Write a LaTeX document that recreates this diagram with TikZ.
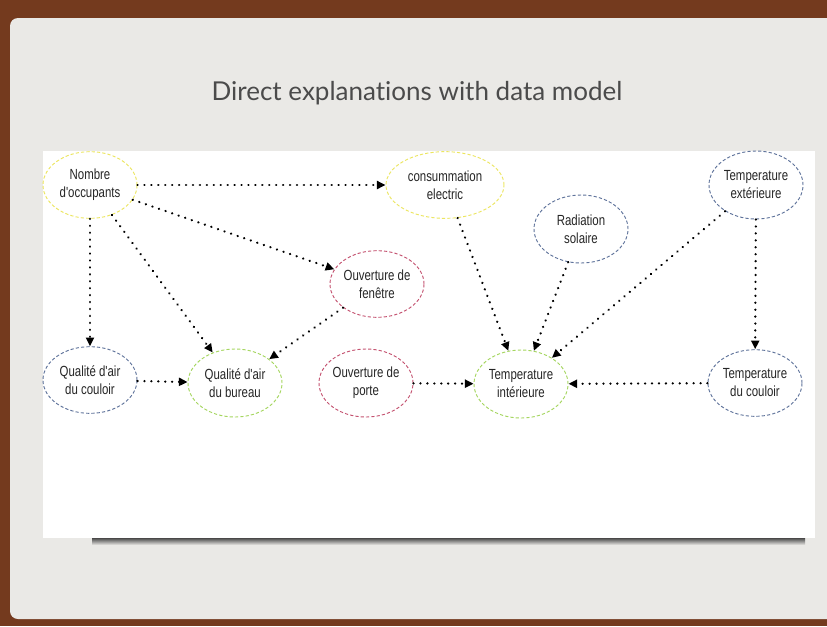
\documentclass[tikz,border=0pt]{standalone}
\usepackage{fontspec}
\usetikzlibrary{arrows.meta,shapes.geometric}
\newfontfamily\labelfont{Liberation Sans}[FakeStretch=0.78]
\newfontfamily\titlefont{Lato}[Ligatures=NoCommon]
\definecolor{framebrown}{RGB}{116,58,30}
\definecolor{slidegray}{RGB}{234,233,230}
\definecolor{titlegray}{RGB}{75,75,75}
\definecolor{varyellow}{RGB}{236,230,95}
\definecolor{vargreen}{RGB}{165,214,95}
\definecolor{varblue}{RGB}{95,115,155}
\definecolor{varred}{RGB}{196,82,112}
\tikzset{
  var/.style={ellipse, dash pattern=on 2.4pt off 1.6pt, line width=0.7pt,
    minimum width=70.5pt, minimum height=50pt, inner xsep=-6pt, inner ysep=0pt,
    align=center, text=black!85, font=\labelfont\fontsize{11}{13.5}\selectfont},
  yvar/.style={var, draw=varyellow},
  gvar/.style={var, draw=vargreen},
  bvar/.style={var, draw=varblue},
  rvar/.style={var, draw=varred},
  link/.style={line width=1.8pt, line cap=round, dash pattern=on 0.1pt off 5.1pt,
    -{Triangle[length=6.5pt,width=6pt]}}
}
\begin{document}
\begin{tikzpicture}[x=0.75pt,y=-0.75pt]
  \useasboundingbox (0,0) rectangle (827,626);
  % Slide frame and background
  \fill[framebrown] (0,0) rectangle (827,626);
  \fill[slidegray, rounded corners=6pt] (10,18) rectangle (840,619);
  \node[titlegray, font=\titlefont\fontsize{19.5}{23}\selectfont] (title) at (417,93)
    {Direct explanations with data model};
  % Panel with its shadow
  \shade[top color=black!80, bottom color=slidegray] (92,537) rectangle (805,545);
  \fill[white] (43,151) rectangle (815,538);
  % Variables
  \node[yvar] (occ) at (90,185) {Nombre\\d'occupants};
  \node[yvar, minimum width=88.5pt] (conso) at (445,185) {consummation\\electric};
  \node[bvar, minimum height=51pt] (rad) at (581,229) {Radiation\\solaire};
  \node[bvar, minimum height=51pt] (text) at (756,185) {Temperature\\extérieure};
  \node[rvar] (fen) at (377,284) {Ouverture de\\fenêtre};
  \node[bvar] (qcoul) at (90,380) {Qualité d'air\\du couloir};
  \node[gvar, minimum height=51pt] (qbur) at (235,383) {Qualité d'air\\du bureau};
  \node[rvar, minimum height=51pt] (porte) at (366,383) {Ouverture de\\porte};
  \node[gvar, minimum height=51pt] (tint) at (521,384) {Temperature\\intérieure};
  \node[bvar] (tcoul) at (755,383) {Temperature\\du couloir};
  % Dependencies
  \draw[link] (occ) -- (conso);
  \draw[link] (occ) -- (fen);
  \draw[link] (occ) -- (qcoul);
  \draw[link] (occ) -- (qbur);
  \draw[link] (fen) -- (qbur);
  \draw[link] (qcoul) -- (qbur);
  \draw[link] (conso) -- (tint);
  \draw[link] (rad) -- (tint);
  \draw[link] (text) -- (tint);
  \draw[link] (text) -- (tcoul);
  \draw[link] (porte) -- (tint);
  \draw[link] (tcoul) -- (tint);
\end{tikzpicture}
\end{document}
